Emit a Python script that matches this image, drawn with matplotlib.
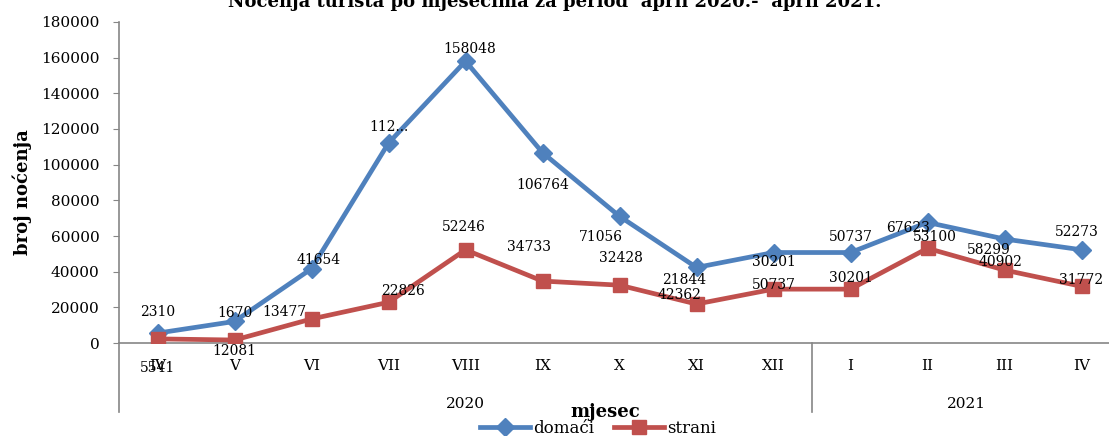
import matplotlib
matplotlib.use("Agg")
import matplotlib.pyplot as plt
from matplotlib.lines import Line2D
import matplotlib.transforms as mtransforms

# podaci
mjeseci = ["IV", "V", "VI", "VII", "VIII", "IX", "X", "XI", "XII", "I", "II", "III", "IV"]
godine = ["2020", "2021"]
domaci = [5541, 12081, 41654, 112100, 158048, 106764, 71056, 42362, 50737, 50737, 67623, 58299, 52273]
strani = [2310, 1670, 13477, 22826, 52246, 34733, 32428, 21844, 30201, 30201, 53100, 40902, 31772]
domaci_txt = [str(v) for v in domaci]
domaci_txt[3] = "112..."
strani_txt = [str(v) for v in strani]

# pomaci natpisa (pikseli)
off_dom = [(0, -35), (0, -30), (7, 9), (0, 16), (4, 12), (0, -32), (-19, -21),
           (-17, -28), (0, -32), (0, 16), (-19, -6), (-16, -11), (-5, 18)]
off_str = [(0, 27), (0, 27), (-27, 7), (14, 11), (-2, 23), (-14, 34), (1, 27),
           (-12, 24), (0, 27), (0, 11), (7, 11), (-4, 8), (0, 6)]

plavo = "#4F81BD"
crveno = "#C0504D"
siva = "#868686"

plt.rcParams["font.family"] = ["DejaVu Serif"]

W, H = 1109, 436
fig = plt.figure(figsize=(W / 100, H / 100), dpi=100)
ax = fig.add_axes([119 / W, 1 - 343 / H, (1120 - 119) / W, (343 - 22) / H])

x = list(range(len(mjeseci)))
ax.plot(x, domaci, color=plavo, lw=3.4, marker="D", ms=8.7, label="domaći", zorder=3)
ax.plot(x, strani, color=crveno, lw=3.4, marker="s", ms=10, label="strani", zorder=3)

for i in x:
    ax.annotate(domaci_txt[i], (i, domaci[i]), xytext=off_dom[i], textcoords="offset pixels",
                ha="center", va="center", fontsize=10, zorder=5)
    ax.annotate(strani_txt[i], (i, strani[i]), xytext=off_str[i], textcoords="offset pixels",
                ha="center", va="center", fontsize=10, zorder=5)

ax.set_xlim(-0.5, len(mjeseci) - 0.5)
ax.set_ylim(0, 180000)
ax.set_yticks(range(0, 180001, 20000))
ax.tick_params(axis="y", direction="out", length=4, color=siva, pad=10, labelsize=11)
ax.set_xticks([])
for s in ["top", "right"]:
    ax.spines[s].set_visible(False)
ax.spines["left"].set_color(siva)
ax.spines["bottom"].set_color(siva)
ax.spines["left"].set_linewidth(1.2)
ax.spines["bottom"].set_linewidth(1.2)

trans = mtransforms.blended_transform_factory(ax.transData, ax.transAxes)
y_mj = -(366 - 343) / 321
y_god = -(404 - 343) / 321
y_dno = -(412 - 343) / 321
for i, m in enumerate(mjeseci):
    ax.text(i, y_mj, m, transform=trans, ha="center", va="center", fontsize=11)
ax.text(4, y_god, godine[0], transform=trans, ha="center", va="center", fontsize=11)
ax.text(10.5, y_god, godine[1], transform=trans, ha="center", va="center", fontsize=11)
for xv in [-0.5, 8.5]:
    ax.add_line(Line2D([xv, xv], [0, y_dno], transform=trans, color=siva, lw=1.2, clip_on=False))

fig.text(555 / W, 1 - 7 / H, "Noćenja turista po mjesecima za period’ april 2020.-’ april 2021.",
         ha="center", va="baseline", fontsize=13, fontweight="bold")
fig.text(22 / W, 1 - 192 / H, "broj noćenja", rotation=90, ha="center", va="center",
         fontsize=13, fontweight="bold")
fig.text(605 / W, 1 - 412 / H, "mjesec", ha="center", va="center", fontsize=13, fontweight="bold")

fig.legend(loc="center", bbox_to_anchor=(598 / W, 1 - 428 / H), ncol=2, frameon=False,
           fontsize=12, handlelength=3.0, handletextpad=0.2, columnspacing=1.2,
           borderpad=0, borderaxespad=0)

fig.savefig("out.png", dpi=100)
